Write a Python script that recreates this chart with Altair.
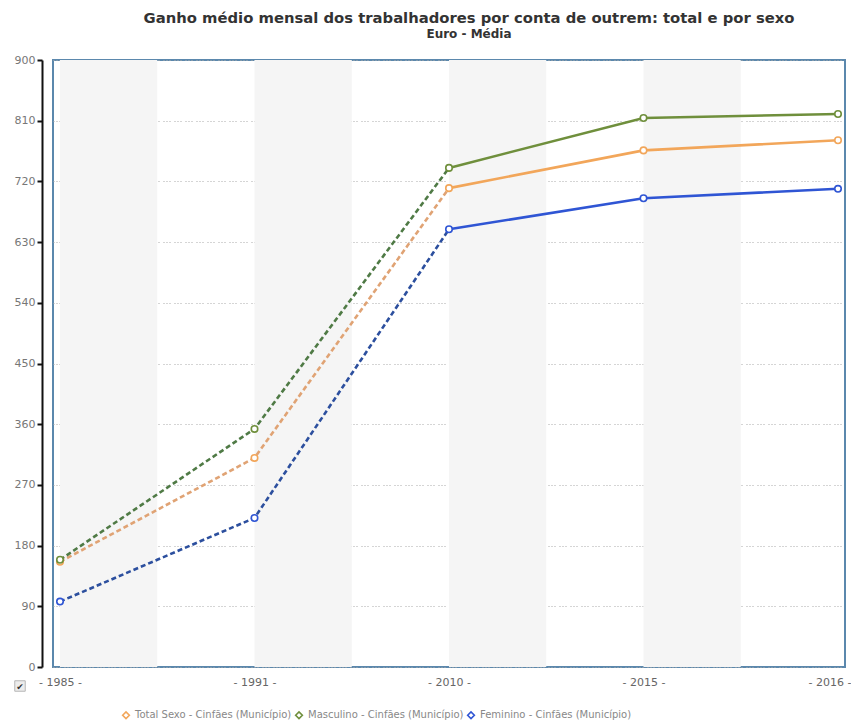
import altair as alt
import pandas as pd

years = ["1985", "1991", "2010", "2015", "2016"]
series_names = [
    "Total Sexo - Cinfães (Município)",
    "Masculino - Cinfães (Município)",
    "Feminino - Cinfães (Município)",
]
total = [156, 310, 710, 766, 781]
masculino = [159, 353, 740, 814, 820]
feminino = [97, 221, 649, 695, 709]

line_colors = ["#f2a65a", "#6f8f3c", "#2f55d4"]
dash_colors = ["#e0a374", "#4f7a45", "#2c4f9e"]

values = [total, masculino, feminino]
rows = []
for s, name in enumerate(series_names):
    for i, y in enumerate(years):
        rows.append({"idx": i, "year": y, "series": name, "value": values[s][i],
                     "dcol": dash_colors[s], "order": s})
df = pd.DataFrame(rows)
dashed_df = df[df["idx"] <= 2]
solid_df = df[df["idx"] >= 2]

bands = pd.DataFrame({"start": [0, 1, 2, 3]})
bands["end"] = bands["start"] + 0.5

W, H = 792, 607
xscale = alt.Scale(domain=[-0.036, 4.036], nice=False, zero=False)
yscale = alt.Scale(domain=[0, 900], nice=False)
cscale = alt.Scale(domain=series_names, range=line_colors)

label_expr = "'- ' + ['1985','1991','2010','2015','2016'][datum.value] + ' -'"

band_layer = alt.Chart(bands).mark_rect(color="#f5f5f5").encode(
    x=alt.X("start:Q", scale=xscale,
            axis=alt.Axis(values=[0, 1, 2, 3, 4], labelExpr=label_expr, title=None,
                          grid=False, domain=False, ticks=False, labelPadding=9,
                          labelColor="#666", labelFontSize=11, labelFont="DejaVu Sans",
                          labelAlign={"condition": {"test": "datum.value == 4", "value": "right"},
                                      "value": "center"},
                          labelOffset={"condition": {"test": "datum.value == 4", "value": 13},
                                       "value": 0})),
    x2="end:Q",
)

dashed = alt.Chart(dashed_df).mark_line(strokeDash=[5, 3], strokeWidth=2.6).encode(
    x=alt.X("idx:Q", scale=xscale),
    y=alt.Y("value:Q", scale=yscale),
    detail="series:N",
    color=alt.Color("dcol:N", scale=None),
)

solid = alt.Chart(solid_df).mark_line(strokeWidth=2.6).encode(
    x=alt.X("idx:Q", scale=xscale),
    y=alt.Y("value:Q", scale=yscale),
    color=alt.Color("series:N", scale=cscale),
)

points = alt.Chart(df).mark_point(filled=False, fill="white", fillOpacity=1,
                                   size=42, strokeWidth=1.6).encode(
    x=alt.X("idx:Q", scale=xscale),
    y=alt.Y("value:Q", scale=yscale,
            axis=alt.Axis(values=list(range(0, 901, 90)), title=None, offset=11,
                          domainColor="#111", domainWidth=2, tickColor="#111",
                          tickSize=5, tickWidth=2, labelColor="#777", labelFontSize=11,
                          labelFont="DejaVu Sans", labelPadding=2,
                          grid=True, gridDash=[1, 2, 1, 2, 1, 4], gridColor="#aaaaaa",
                          gridWidth=1)),
    color=alt.Color("series:N", scale=cscale,
                    legend=alt.Legend(orient="none", legendX=68, legendY=650,
                                      direction="horizontal", title=None,
                                      symbolType="diamond", symbolSize=45,
                                      symbolStrokeWidth=1.6, symbolFillColor="white",
                                      labelFont="DejaVu Sans", labelFontSize=10,
                                      labelColor="#888", columnPadding=0,
                                      symbolOffset=0, labelOffset=4)),
)

checkbox = alt.Chart(pd.DataFrame({"t": ["✔"]})).mark_square(
    size=110, fill="#e6e6e6", stroke="#999", strokeWidth=1
).encode(x=alt.value(-33), y=alt.value(626))
checkmark = alt.Chart(pd.DataFrame({"t": ["✔"]})).mark_text(
    fontSize=9, color="#333", font="DejaVu Sans"
).encode(x=alt.value(-33), y=alt.value(627), text="t:N")

chart = alt.layer(band_layer, dashed, solid, points, checkbox, checkmark).properties(
    width=W, height=H,
    title=alt.TitleParams(
        text="Ganho médio mensal dos trabalhadores por conta de outrem: total e por sexo",
        subtitle="Euro - Média",
        font="DejaVu Sans", fontSize=14.8, fontWeight="bold", color="#333",
        subtitleFont="DejaVu Sans", subtitleFontSize=12, subtitleFontWeight="bold",
        subtitleColor="#333", subtitlePadding=3, anchor="middle", dx=20, offset=14,
    ),
    autosize=alt.AutoSizeParams(type="none"),
    padding={"left": 45, "top": 52, "right": 6, "bottom": 55},
).configure_view(stroke="#5b88ad", strokeWidth=2, fill="white")

chart.save("out.html", embed_options={"renderer": "svg", "actions": False})
